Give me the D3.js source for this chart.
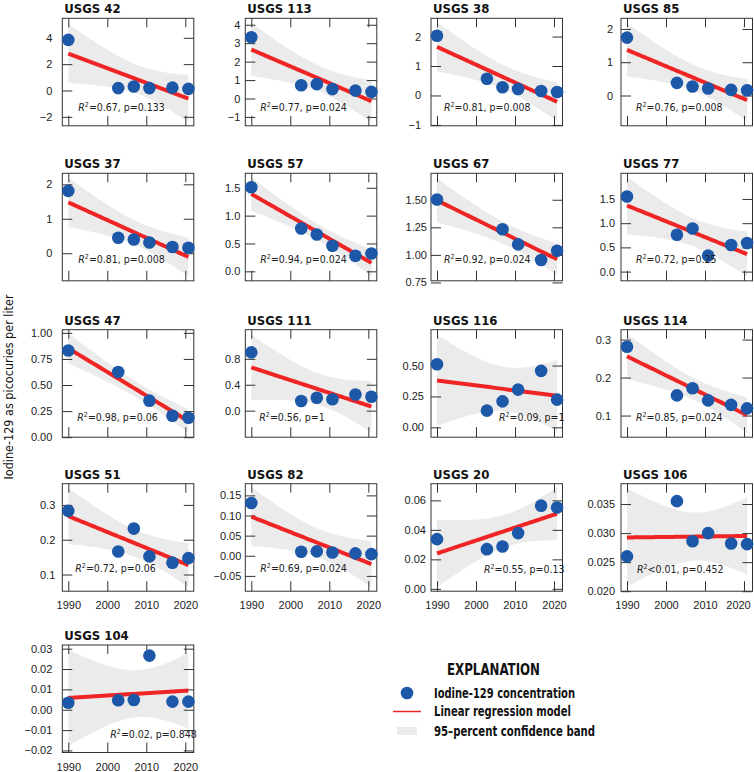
<!DOCTYPE html>
<html><head><meta charset="utf-8">
<script src="https://cdn.jsdelivr.net/npm/d3@7"></script>
<style>
body{margin:0;background:#fff}
text{font-family:"Liberation Sans Narrow","Arial Narrow","DejaVu Sans Condensed",sans-serif}
.tick text{font-family:"Liberation Sans",Arial,sans-serif;font-size:11px;fill:#222}
</style>
</head><body>
<svg id="chart" width="754" height="772"></svg>
<script>
// ---------------- data ----------------
const wells = ["USGS 42","USGS 113","USGS 38","USGS 85",
               "USGS 37","USGS 57","USGS 67","USGS 77",
               "USGS 47","USGS 111","USGS 116","USGS 114",
               "USGS 51","USGS 82","USGS 20","USGS 106",
               "USGS 104"];
const yearsAll = [1990.0, 2002.8, 2006.8, 2010.8, 2016.7, 2020.8];
const yearsNo2007 = [1990.0, 2002.8, 2010.8, 2016.7, 2020.8];
const yearsNo2003 = [1990.0, 2006.8, 2010.8, 2016.7, 2020.8];
const wellYears = [yearsAll, yearsAll, yearsAll, yearsAll,
                   yearsAll, yearsAll, yearsNo2003, yearsAll,
                   yearsNo2007, yearsAll, yearsAll, yearsAll,
                   yearsAll, yearsAll, yearsAll, yearsAll,
                   yearsAll];
// Iodine-129, pCi/L
const usgs42  = [3.84, 0.18, 0.30, 0.18, 0.22, 0.12];
const usgs113 = [3.32, 0.72, 0.78, 0.51, 0.43, 0.36];
const usgs38  = [2.03, 0.57, 0.28, 0.22, 0.15, 0.12];
const usgs85  = [1.74, 0.38, 0.27, 0.21, 0.17, 0.16];
const usgs37  = [1.81, 0.45, 0.40, 0.31, 0.18, 0.16];
const usgs57  = [1.51, 0.77, 0.66, 0.46, 0.28, 0.32];
const usgs67  = [1.503, 1.232, 1.095, 0.954, 1.037];
const usgs77  = [1.55, 0.76, 0.89, 0.33, 0.55, 0.59];
const usgs47  = [0.83, 0.625, 0.35, 0.205, 0.186];
const usgs111 = [0.90, 0.15, 0.20, 0.175, 0.25, 0.215];
const usgs116 = [0.51, 0.135, 0.21, 0.305, 0.457, 0.224];
const usgs114 = [0.281, 0.153, 0.172, 0.140, 0.128, 0.119];
const usgs51  = [0.283, 0.166, 0.232, 0.152, 0.134, 0.147];
const usgs82  = [0.131, 0.010, 0.011, 0.008, 0.006, 0.004];
const usgs20  = [0.0337, 0.0269, 0.0287, 0.0378, 0.0564, 0.0552];
const usgs106 = [0.0260, 0.0355, 0.0286, 0.0300, 0.0282, 0.0281];
const usgs104 = [0.0034, 0.0047, 0.0048, 0.0266, 0.0040, 0.0040];
const wellValues = [usgs42, usgs113, usgs38, usgs85, usgs37, usgs57, usgs67, usgs77,
                    usgs47, usgs111, usgs116, usgs114, usgs51, usgs82, usgs20, usgs106, usgs104];
const yDomains = [[-2.68,5.48],[-1.48,4.35],[-1.03,2.62],[-0.91,2.32],
                  [-0.80,2.32],[-0.17,1.76],[0.765,1.74],[-0.19,2.03],
                  [0,1.03],[-0.41,1.25],[-0.08,0.79],[0.043,0.326],
                  [0.052,0.361],[-0.088,0.179],[-0.0016,0.0713],[0.020,0.0385],
                  [-0.021,0.0318]];
const yTicks = [[-2,0,2,4],[-1,0,1,2,3,4],[-1,0,1,2],[0,1,2],
                [0,1,2],[0,0.5,1,1.5],[0.75,1,1.25,1.5],[0,0.5,1,1.5],
                [0,0.25,0.5,0.75,1],[0,0.4,0.8],[0,0.25,0.5],[0.1,0.2,0.3],
                [0.1,0.2,0.3],[-0.05,0,0.05,0.1,0.15],[0,0.02,0.04,0.06],[0.02,0.025,0.03,0.035],
                [-0.02,-0.01,0,0.01,0.02,0.03]];
const yFormats = [".0f",".0f",".0f",".0f",".0f",".1f",".2f",".1f",
                  ".2f",".1f",".2f",".1f",".1f",".2f",".2f",".3f",".2f"];
const xTicks = [1990, 2000, 2010, 2020];
const xDomain = [1988.46, 2022.18];
const r2Text = ["=0.67","=0.77","=0.81","=0.76","=0.81","=0.94","=0.92","=0.72",
                "=0.98","=0.56","=0.09","=0.85","=0.72","=0.69","=0.55","<0.01","=0.02"];
const pText = ["0.133","0.024","0.008","0.008","0.008","0.024","0.024","0.25",
               "0.06","1","1","0.024","0.06","0.024","0.13","0.452","0.848"];
const legendItems = ["Iodine-129 concentration","Linear regression model","95\u2013percent confidence band"];

// ---------------- layout ----------------
const colX = [62.3, 245.3, 431, 621];
const rowY = [18.3, 173.3, 329.7, 483.7, 645];
const pw = 131.5, ph = 107.5;
const labelGap = [10,5,10,8, 10,5,4,6, 10,5,7,10, 7,4,5,6, 10];
const statX = [16,15,13,15, 16,15,13,15, 15,14,68,15, 13,15,53,16, 48];
const statY = [93,93,93,93, 90,90,90,90, 91,91,91,91, 88,88,89,89, 93];
const legendTextLen = [141, 137, 161];

const blue = "#1c58a7", red = "#ee2524", band = "#ebebeb";

const svg = d3.select("#chart");

// OLS fit with 95% confidence band
const tq = {3:3.182, 4:2.776};
function olsFit(xs, ys){
  const n = xs.length, mx = d3.mean(xs), my = d3.mean(ys);
  let sxx=0, sxy=0;
  xs.forEach((x,i)=>{ sxx += (x-mx)*(x-mx); sxy += (x-mx)*(ys[i]-my); });
  const b = sxy/sxx, a = my - b*mx;
  let sse = 0; xs.forEach((x,i)=>{ const e = ys[i]-(a+b*x); sse += e*e; });
  const s = Math.sqrt(sse/(n-2)), t = tq[n-2];
  return x => { const yh = a+b*x, h = t*s*Math.sqrt(1/n + (x-mx)*(x-mx)/sxx); return [yh, yh-h, yh+h]; };
}

const x = d3.scaleLinear().domain(xDomain).range([0, pw]);

wells.forEach((name, i) => {
  const row = Math.floor(i/4), col = i%4;
  const g = svg.append("g").attr("transform", `translate(${colX[col]},${rowY[row]})`);
  const y = d3.scaleLinear().domain(yDomains[i]).range([ph, 0]);
  const xs = wellYears[i], ys = wellValues[i];
  const f = olsFit(xs, ys);
  const x0 = d3.min(xs), x1 = d3.max(xs);
  const grid = d3.range(0, 61).map(k => x0 + (x1-x0)*k/60);
  const pts = grid.map(v => [v, ...f(v)]);

  g.append("path").datum(pts)
    .attr("d", d3.area().x(d=>x(d[0])).y0(d=>y(d[2])).y1(d=>y(d[3])))
    .attr("fill", band);

  // frame
  g.append("rect").attr("width", pw).attr("height", ph)
    .attr("fill","none").attr("stroke","#333").attr("stroke-width",1);

  // axes (inside ticks)
  const left = g.append("g").call(d3.axisLeft(y).tickValues(yTicks[i]).tickFormat(d3.format(yFormats[i]))
      .tickSize(-10).tickPadding(labelGap[i]));
  const right = g.append("g").attr("transform",`translate(${pw},0)`)
      .call(d3.axisRight(y).tickValues(yTicks[i]).tickSize(-10).tickFormat(""));
  const top = g.append("g").call(d3.axisTop(x).tickValues(xTicks).tickSize(-9).tickFormat(""));
  const showX = row >= 3;
  const bottom = g.append("g").attr("transform",`translate(0,${ph})`)
      .call(d3.axisBottom(x).tickValues(xTicks).tickSize(-10).tickPadding(showX?16:0)
        .tickFormat(showX ? d3.format("d") : ""));
  [left,right,top,bottom].forEach(a => {
    a.select(".domain").remove();
    a.selectAll(".tick line").attr("stroke","#333").attr("stroke-width",1);
  });
  bottom.selectAll(".tick text").attr("dy","0.2em");
  if (col === 3) bottom.selectAll(".tick text").filter(d => d === 2020).attr("dx", -6);

  // regression line
  g.append("path").datum(pts)
    .attr("d", d3.line().x(d=>x(d[0])).y(d=>y(d[1])))
    .attr("fill","none").attr("stroke",red).attr("stroke-width",4);

  // points
  g.selectAll("circle.pt").data(xs.map((v,k)=>[v, ys[k]])).join("circle")
    .attr("class","pt").attr("cx", d=>x(d[0])).attr("cy", d=>y(d[1])).attr("r", 6.3)
    .attr("fill", blue);

  // stats text
  const st = g.append("text").attr("x", statX[i]).attr("y", statY[i])
    .attr("font-size", 10.5).attr("fill","#222");
  st.append("tspan").attr("font-style","italic").text("R");
  st.append("tspan").attr("font-size", 7).attr("dy", -4).text("2");
  st.append("tspan").attr("dy", 4).text(`${r2Text[i]}, p=${pText[i]}`);

  // title
  g.append("text").attr("x", 2).attr("y", -5).attr("font-weight","bold")
    .attr("font-size", 13).attr("fill","#111").text(name);
});

// y-axis title
svg.append("text").attr("transform","translate(13,387) rotate(-90)")
  .attr("text-anchor","middle").attr("font-size",12.5).attr("fill","#111")
  .text("Iodine-129 as picocuries per liter");

// legend
const lg = svg.append("g");
lg.append("text").attr("x", 447).attr("y", 675)
  .attr("font-weight","bold").attr("font-size",15.5).attr("fill","#111")
  .attr("textLength", 93).attr("lengthAdjust","spacingAndGlyphs").text("EXPLANATION");
lg.append("circle").attr("cx",407).attr("cy",693).attr("r",6.3).attr("fill",blue);
lg.append("line").attr("x1",393).attr("x2",421).attr("y1",711.5).attr("y2",711.5)
  .attr("stroke",red).attr("stroke-width",1.5);
lg.append("rect").attr("x",397).attr("y",727).attr("width",20).attr("height",8).attr("fill",band);
legendItems.forEach((t,k)=>{
  lg.append("text").attr("x",434).attr("y",[698,716,736][k]).attr("font-weight","bold")
    .attr("font-size",14).attr("fill","#111")
    .attr("textLength", legendTextLen[k]).attr("lengthAdjust","spacingAndGlyphs").text(t);
});
</script>
</body></html>
